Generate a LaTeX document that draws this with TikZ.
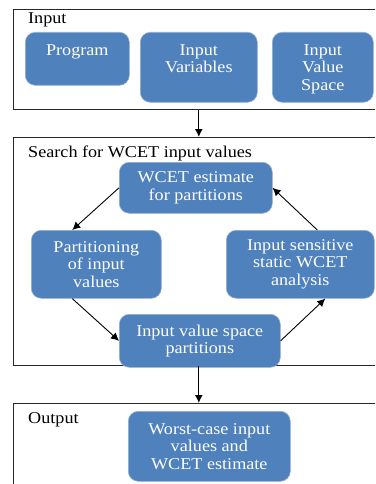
\documentclass[tikz,border=0pt]{standalone}
\usepackage{fontspec}
\setmainfont{Liberation Serif}[FakeStretch=1.1]
\usetikzlibrary{arrows.meta}
\definecolor{boxblue}{RGB}{79,129,189}
\definecolor{boxedge}{RGB}{150,175,210}
\definecolor{framegray}{RGB}{40,40,40}

\begin{document}
\begin{tikzpicture}[x=1pt, y=-1pt,
    font=\fontsize{16.5}{17.5}\selectfont,
    frame/.style={draw=framegray, line width=1.2pt, anchor=north west, inner sep=0},
    title/.style={anchor=base west, inner sep=0},
    blk/.style={draw=boxedge, line width=0.6pt, fill=boxblue, rounded corners=10pt,
        text=white, align=center, anchor=north west, inner sep=0},
    toptext/.style={label={[text=white, align=center, anchor=north, yshift=-12pt, inner sep=0]north:#1}},
    >={Latex[length=8pt, width=8pt]}]
    \useasboundingbox (0,0) rectangle (375,484);
    \clip (0,0) rectangle (375,484);
    \fill[white] (0,0) rectangle (375,484);

    % frames
    \node[frame, minimum width=372pt, minimum height=100pt] (inframe) at (13,9) {};
    \node[frame, minimum width=372pt, minimum height=228pt] (srframe) at (13,137) {};
    \node[frame, minimum width=372pt, minimum height=100pt] (outframe) at (13,403) {};
    \node[title] (intitle) at (28,24) {Input};
    \node[title] (srtitle) at (28,157) {Search for WCET input values};
    \node[title] (outtitle) at (28,423) {Output};

    % input row
    \node[blk, toptext=Program, minimum width=104pt, minimum height=53pt] (prog) at (25,32) {};
    \node[blk, toptext={Input\\Variables}, minimum width=117pt, minimum height=70pt] (ivar) at (140,32) {};
    \node[blk, toptext={Input\\Value\\Space}, minimum width=101pt, minimum height=70pt] (ispace) at (272,32) {};

    % search loop
    \node[blk, minimum width=153pt, minimum height=51pt] (wcet) at (119,162) {WCET estimate\\for partitions};
    \node[blk, minimum width=130pt, minimum height=68pt] (part) at (31,230) {Partitioning\\of input\\values};
    \node[blk, minimum width=148pt, minimum height=68pt] (sens) at (226,230) {Input sensitive\\static WCET\\analysis};
    \node[blk, minimum width=161pt, minimum height=53pt] (ivsp) at (119,314) {Input value space\\partitions};

    % output
    \node[blk, minimum width=162pt, minimum height=70pt] (worst) at (128,411) {Worst-case input\\values and\\WCET estimate};

    \draw[->, line width=1.3pt] (ivar.south |- inframe.south) -- (ivar.south |- srframe.north);
    \draw[->, line width=1.3pt] (ivar.south |- srframe.south) -- (ivar.south |- outframe.north);
    \draw[->, line width=0.9pt] (wcet.west) -- ([xshift=-24pt]part.north);
    \draw[->, line width=0.9pt] ([xshift=-24pt]part.south) -- (ivsp.west);
    \draw[->, line width=0.9pt] (ivsp.east) -- ([xshift=25pt]sens.south);
    \draw[->, line width=0.9pt] ([xshift=17pt]sens.north) -- (wcet.east);
\end{tikzpicture}
\end{document}
